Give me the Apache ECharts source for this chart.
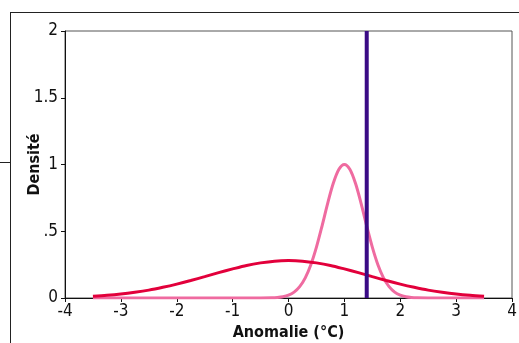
<!DOCTYPE html>
<html><head><meta charset="utf-8">
<script src="https://cdn.jsdelivr.net/npm/echarts@6/dist/echarts.min.js"></script>
<style>html,body{margin:0;padding:0;background:#fff}#c{width:519px;height:343px}</style>
</head><body><div id="c"></div>
<script>
var xTicks = [-4, -3, -2, -1, 0, 1, 2, 3, 4];
var yTickLabels = {0: '0', 0.5: '.5', 1: '1', 1.5: '1.5', 2: '2'};
var xName = 'Anomalie (°C)';
var yName = 'Densité';

var redX = [-3.5,-3.25,-3,-2.75,-2.5,-2.25,-2,-1.75,-1.5,-1.25,-1,-0.75,-0.5,-0.25,0,0.25,0.5,0.75,1,1.25,1.5,1.75,2,2.25,2.5,2.75,3,3.25,3.5];
var redY = [0.0135,0.0204,0.030,0.043,0.059,0.080,0.104,0.131,0.160,0.190,0.218,0.244,0.263,0.276,0.280,0.276,0.263,0.244,0.218,0.190,0.160,0.131,0.104,0.080,0.059,0.043,0.030,0.0204,0.0135];

var pinkX = [-3.5,-1,-0.5,-0.3,-0.2,-0.1,0,0.1,0.2,0.3,0.4,0.5,0.6,0.7,0.8,0.9,1,1.1,1.2,1.3,1.4,1.5,1.6,1.7,1.8,1.9,2,2.1,2.2,2.3,2.5,3,3.5];
var pinkY = [0,0,0.0002,0.0015,0.0039,0.0094,0.021,0.044,0.085,0.151,0.249,0.381,0.539,0.707,0.857,0.962,1.0,0.962,0.857,0.707,0.539,0.381,0.249,0.151,0.085,0.044,0.021,0.0094,0.0039,0.0015,0.0002,0,0];

var obsX = [1.4, 1.4];
var obsY = [0, 2];

function zip(a, b) { return a.map(function (v, i) { return [v, b[i]]; }); }

var font = "'DejaVu Sans Condensed','Liberation Sans Narrow',sans-serif";
var chart = echarts.init(document.getElementById('c'), null, {renderer: 'canvas'});
chart.setOption({
  animation: false,
  grid: {left: 65, right: 7, top: 31, bottom: 45, outerBoundsMode: 'none', containLabel: false,
    show: true, borderColor: '#555', borderWidth: 1, backgroundColor: 'transparent'},
  xAxis: {
    type: 'value', min: -4, max: 4, interval: 1,
    name: xName, nameLocation: 'middle', nameGap: 27, nameMoveOverlap: false,
    nameTextStyle: {fontFamily: font, fontWeight: 'bold', fontSize: 16, color: '#111'},
    axisLine: {show: true, onZero: false, lineStyle: {color: '#111', width: 1}},
    axisTick: {show: true, length: 4, lineStyle: {color: '#111'}},
    axisLabel: {fontFamily: font, fontSize: 17, color: '#111', margin: 5,
      formatter: function (v) { return xTicks.indexOf(v) >= 0 ? String(v) : ''; }},
    splitLine: {show: false}
  },
  yAxis: {
    type: 'value', min: 0, max: 2, interval: 0.5,
    name: yName, nameLocation: 'middle', nameGap: 22, nameMoveOverlap: false,
    nameTextStyle: {fontFamily: font, fontWeight: 'bold', fontSize: 16, color: '#111'},
    axisLine: {show: true, onZero: false, lineStyle: {color: '#111', width: 1}},
    axisTick: {show: true, length: 4, lineStyle: {color: '#111'}},
    axisLabel: {fontFamily: font, fontSize: 17, color: '#111', margin: 7,
      formatter: function (v) { return yTickLabels[v] !== undefined ? yTickLabels[v] : ''; }},
    splitLine: {show: false}
  },
  graphic: [
    {type: 'line', shape: {x1: 10, y1: 12.5, x2: 519, y2: 12.5}, style: {stroke: '#222', lineWidth: 1}, silent: true},
    {type: 'line', shape: {x1: 10.5, y1: 12, x2: 10.5, y2: 343}, style: {stroke: '#222', lineWidth: 1}, silent: true},
    {type: 'line', shape: {x1: 0, y1: 162.5, x2: 10, y2: 162.5}, style: {stroke: '#222', lineWidth: 1}, silent: true}
  ],
  series: [
    {type: 'line', data: zip(pinkX, pinkY), smooth: 0.3, showSymbol: false, symbol: 'none',
      lineStyle: {color: '#ef6ba0', width: 3}, z: 2},
    {type: 'line', data: zip(redX, redY), smooth: 0.3, showSymbol: false, symbol: 'none',
      lineStyle: {color: '#e2003b', width: 3}, z: 3},
    {type: 'line', data: zip(obsX, obsY), showSymbol: false, symbol: 'none',
      lineStyle: {color: '#3a0b85', width: 4}, z: 4}
  ]
});
</script></body></html>
